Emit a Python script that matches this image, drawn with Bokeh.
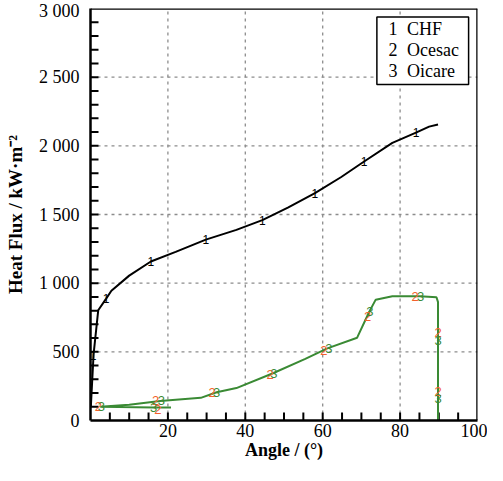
import numpy as np
from bokeh.plotting import figure
from bokeh.models import BoxAnnotation, Label, FixedTicker, Range1d
from bokeh.core.properties import value
from bokeh.embed import file_html
from bokeh.resources import INLINE

# ---- data ----
x_ticks = [0, 20, 40, 60, 80, 100]
x_minor = list(range(5, 100, 5))
y_ticks = [0, 500, 1000, 1500, 2000, 2500, 3000]
y_minor = list(range(100, 3000, 100))
y_tick_labels = ["0", "500", "1 000", "1 500", "2 000", "2 500", "3 000"]

chf_angle = [0.1, 0.8, 2.0, 4.0, 5.4, 10.0, 15.6, 22.0, 29.8, 37.7, 44.4, 51.0, 58.0, 64.8, 70.7, 78.0, 84.1, 87.5, 89.8]
chf_flux = [106, 484, 803, 886, 945, 1055, 1158, 1228, 1317, 1388, 1459, 1550, 1655, 1773, 1886, 2021, 2096, 2140, 2156]
chf_mark_angle = [0.7, 4.0, 15.6, 29.8, 44.4, 58.0, 70.7, 84.1]
chf_mark_flux = [470, 886, 1158, 1317, 1459, 1655, 1886, 2096]

oicare_angle = [20.8, 16.5, 2.5, 10.0, 18.0, 28.5, 32.6, 37.7, 47.0, 55.5, 61.2, 68.9, 72.0, 73.7, 78.0, 85.1, 89.4, 89.8, 89.8]
oicare_flux = [94, 95, 100, 115, 142, 165, 206, 236, 342, 449, 525, 603, 790, 880, 905, 905, 898, 862, 0]
oicare_mark_angle = [2.8, 16.3, 18.3, 32.6, 47.4, 61.6, 72.2, 85.3, 89.8, 89.8]
oicare_mark_flux = [101, 95, 142, 206, 342, 522, 797, 905, 585, 160]

ocesac_mark_angle = [2.0, 17.4, 16.8, 31.4, 46.4, 60.3, 71.6, 83.9, 89.8, 89.8]
ocesac_mark_flux = [101, 80, 148, 203, 338, 510, 755, 906, 638, 213]

legend_numbers = ["1", "2", "3"]
legend_names = ["CHF", "Ocesac", "Oicare"]

SERIF = "Liberation Serif"
GREEN = "#3a8a34"
RED = "#f4602c"

FW, FH = 387, 412
X0, X1, Y0, Y1 = 0, 100, 0, 3000

p = figure(frame_width=FW, frame_height=FH, x_range=Range1d(X0, X1), y_range=Range1d(Y0, Y1),
           output_backend="svg", toolbar_location=None,
           min_border_left=90, min_border_right=10, min_border_top=8, min_border_bottom=45)
p.outline_line_color = None
p.grid.visible = False

p.xaxis.ticker = FixedTicker(ticks=x_ticks)
p.yaxis.ticker = FixedTicker(ticks=y_ticks)
p.xaxis.major_label_overrides = {0: ""}
p.yaxis.major_label_overrides = {t: l for t, l in zip(y_ticks, y_tick_labels)}

for ax in (p.xaxis, p.yaxis):
    ax.axis_line_color = "black"
    ax.axis_line_width = 2.5
    ax.major_tick_in = 0
    ax.major_tick_out = 0
    ax.minor_tick_in = 0
    ax.minor_tick_out = 0
    ax.major_label_text_font = SERIF
    ax.major_label_text_font_size = "18px"
    ax.major_label_text_color = "black"
    ax.axis_label_text_font = SERIF
    ax.axis_label_text_font_size = "18px"
    ax.axis_label_text_font_style = "bold"
    ax.axis_label_text_color = "black"
p.xaxis.axis_label = "Angle / (°)"
p.yaxis.axis_label = "Heat Flux / kW·m⁻²"
p.yaxis.axis_label_text_font_size = "19px"
p.xaxis.major_label_standoff = 3
p.xaxis.axis_label_standoff = 0
p.yaxis.major_label_standoff = 11
p.yaxis.axis_label_standoff = 10

# dashed grid lines at the labelled ticks
gx = x_ticks[1:-1]
gy = y_ticks[1:-1]
p.segment(x0=gx, y0=[Y0] * len(gx), x1=gx, y1=[Y1] * len(gx),
          line_color="#8c8c8c", line_dash="3 4", line_width=1.3)
p.segment(x0=[X0] * len(gy), y0=gy, x1=[X1] * len(gy), y1=gy,
          line_color="#8c8c8c", line_dash="3 4", line_width=1.3)

# frame border (top and right)
p.segment(x0=[X0, X1], y0=[Y1, Y0], x1=[X1, X1], y1=[Y1, Y1], line_color="black", line_width=2.5)

# inward tick marks (8 px long) as one broken polyline
tlx = 8 * (X1 - X0) / FW
tly = 8 * (Y1 - Y0) / FH
xt_all = sorted(set(x_minor + x_ticks[1:-1]))
yt_all = sorted(set(y_minor + y_ticks[1:-1]))
tick_x, tick_y = [], []
for t in xt_all:
    tick_x += [t, t, np.nan]
    tick_y += [Y0, Y0 + tly, np.nan]
for t in yt_all:
    tick_x += [X0, X0 + tlx, np.nan]
    tick_y += [t, t, np.nan]
p.line(np.array(tick_x), np.array(tick_y), line_color="black", line_width=2)

# CHF
p.line(chf_angle, chf_flux, line_color="black", line_width=2)
p.text(x=chf_mark_angle, y=chf_mark_flux, text=["1"] * len(chf_mark_angle),
       text_font=value("Liberation Sans"), text_font_size="12px", text_color="black",
       text_align="center", text_baseline="middle")

# Oicare / Ocesac
p.line(oicare_angle, oicare_flux, line_color=GREEN, line_width=2)
p.text(x=ocesac_mark_angle, y=ocesac_mark_flux, text=["2"] * len(ocesac_mark_angle),
       text_font=value("Liberation Sans"), text_font_size="13px", text_color=RED,
       text_align="center", text_baseline="middle")
p.text(x=oicare_mark_angle, y=oicare_mark_flux, text=["3"] * len(oicare_mark_angle),
       text_font=value("Liberation Sans"), text_font_size="13px", text_color=GREEN,
       text_align="center", text_baseline="middle")

# legend box
p.add_layout(BoxAnnotation(left=74.0, right=97.7, top=2938, bottom=2447,
                           fill_color="white", fill_alpha=1, line_color="black",
                           line_width=1.5, line_alpha=1, level="annotation"))
rows_y = [2851, 2700, 2546]
for num, name, yy in zip(legend_numbers, legend_names, rows_y):
    p.add_layout(Label(x=77.0, y=yy, text=num, text_font=SERIF, text_font_size="18px",
                       text_baseline="middle", text_color="black"))
    p.add_layout(Label(x=81.8, y=yy, text=name, text_font=SERIF, text_font_size="18px",
                       text_baseline="middle", text_color="black"))

open("out.html", "w").write(file_html(p, INLINE))
